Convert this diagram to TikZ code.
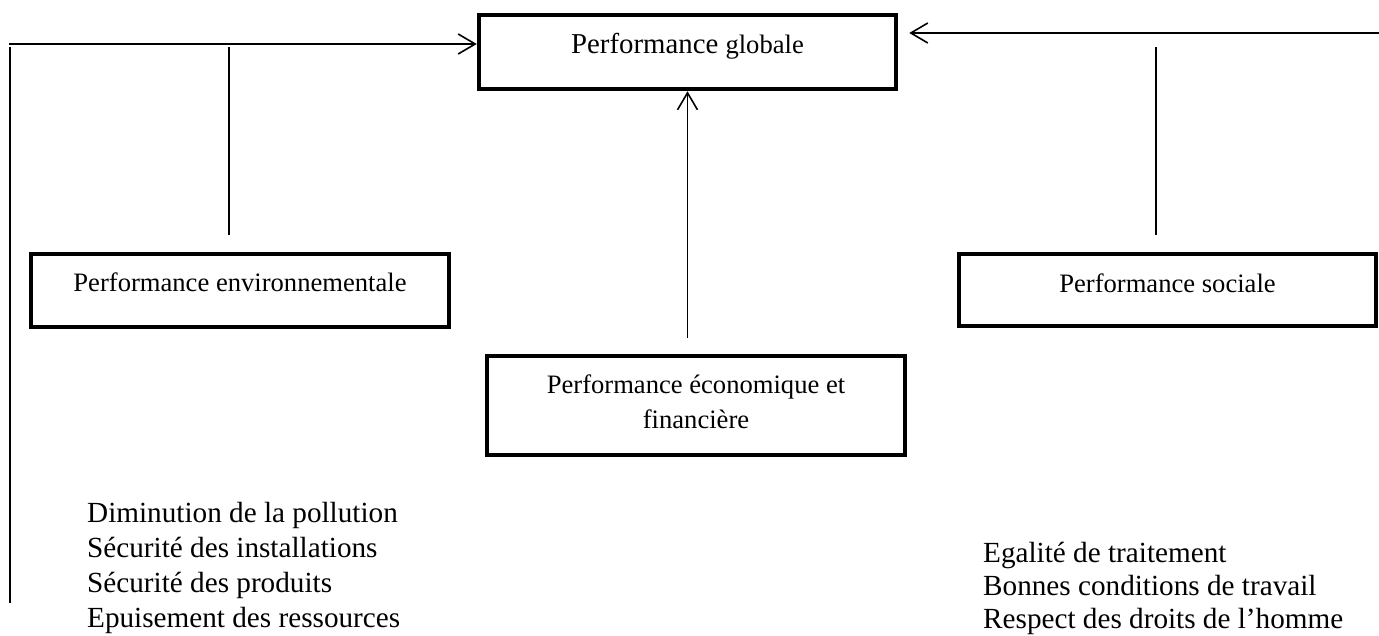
\documentclass[tikz,border=0pt]{standalone}
\usepackage{fontspec}
\setmainfont{Liberation Serif}
\usetikzlibrary{arrows.meta}
\tikzset{
  pbox/.style={draw, rectangle, line width=4.5pt, inner sep=0pt, align=center,
    font=\fontsize{26.6}{35}\selectfont},
  link/.style={line width=1.6pt},
  arr/.style={link, -{Straight Barb[length=17pt,width=20pt,line width=1.6pt]}},
  lst/.style={inner sep=0pt, anchor=base west, align=left,
    font=\fontsize{29.2}{35}\selectfont}
}
\begin{document}
\begin{tikzpicture}[x=1pt,y=-1pt]
\useasboundingbox (0,0) rectangle (1379,635);

% boxes
\node[pbox, minimum width=417pt, minimum height=74pt, text height=20pt, text depth=17pt]
  (top) at (687.5,52) {\fontsize{28.8}{35}\selectfont Performance \fontsize{26.6}{35}\selectfont globale};
\node[pbox, minimum width=418pt, minimum height=73pt, text height=19pt, text depth=18pt]
  (env) at (240,290.5) {Performance environnementale};
\node[pbox, minimum width=417pt, minimum height=72pt, text height=20pt, text depth=16pt]
  (soc) at (1167.5,290) {Performance sociale};
\node[pbox, minimum width=418pt, minimum height=99pt, text height=55pt, text depth=10pt]
  (eco) at (696,405.5) {Performance économique et\\financière};

% lists of criteria (anchored on the baseline of their last line)
\node[lst] (envlist) at (87,627) {Diminution de la pollution\\Sécurité des installations\\Sécurité des produits\\Epuisement des ressources};
\node[lst, font=\fontsize{29.2}{33}\selectfont] (soclist) at (983,628) {Egalité de traitement\\Bonnes conditions de travail\\Respect des droits de l’homme};

% left side: environmental branch
\coordinate (lbot) at (10,603);
\coordinate (lcorner) at (10,47);
\draw[link] (lbot) -- (lcorner);
\coordinate (lstart) at (9,44);
\draw[arr] (lstart) -- (lstart -| top.west);
\coordinate (ev0) at (229,235);
\coordinate (ev1) at (229,47);
\draw[link] (ev0) -- (ev1);

% right side: social branch
\coordinate (rstart) at (1379,33);
\draw[arr, shorten >=11pt] (rstart) -- (rstart -| top.east);
\coordinate (sv0) at (1156,235);
\coordinate (sv1) at (1156,47);
\draw[link] (sv0) -- (sv1);

% centre: economic branch
\draw[arr] (eco.north -| top.south) ++(0,-16) -- (top.south);
\end{tikzpicture}
\end{document}
